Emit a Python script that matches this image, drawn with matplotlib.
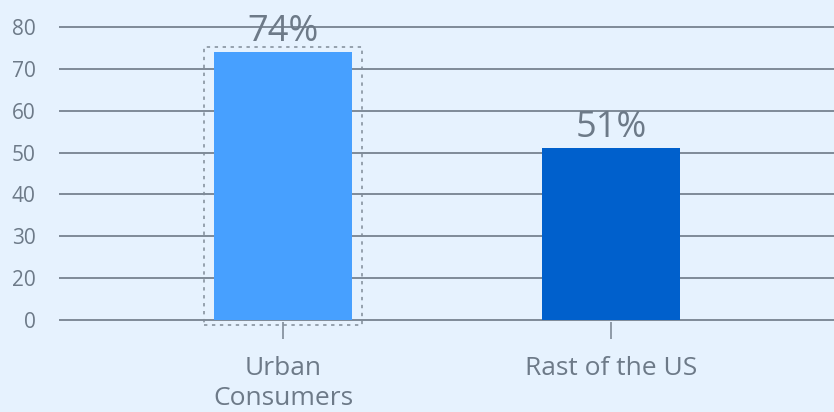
import numpy as np
import matplotlib
matplotlib.use("Agg")
import matplotlib.pyplot as plt
from matplotlib.patches import Rectangle

# Data
categories = ["Urban\nConsumers", "Rast of the US"]
values = [74, 51]
value_labels = ["74%", "51%"]
bar_colors = ["#47a0ff", "#0060cc"]
y_ticks = [0, 20, 30, 40, 50, 60, 70, 80]

BG = "#e6f2fe"
GRID = "#7f8b98"
TEXT = "#6d7a88"

plt.rcParams["font.family"] = ["Open Sans", "DejaVu Sans"]


# Axis with the lowest band (0-20) squeezed into a single grid step
def fwd(v):
    v = np.asarray(v, dtype=float)
    return np.where(v >= 20, v, 10 + v / 2)


def inv(p):
    p = np.asarray(p, dtype=float)
    return np.where(p >= 20, p, (p - 10) * 2)


fig = plt.figure(figsize=(8.34, 4.12), dpi=100, facecolor=BG)
ax = fig.add_axes([59 / 834, 90 / 412, 775 / 834, 322 / 412])
ax.set_facecolor(BG)
ax.set_yscale("function", functions=(fwd, inv))
ax.set_ylim(-0.96, 86.45)
ax.set_xlim(-0.683, 1.68)

x = np.arange(len(categories))
width = 0.42
bars = ax.bar(x, values, width=width, color=bar_colors, zorder=3)

for xi, v, lab in zip(x, values, value_labels):
    ax.annotate(lab, (xi, v), xytext=(0, 8), textcoords="offset points",
                ha="center", va="baseline", fontsize=26, color=TEXT, zorder=4)

# Dotted highlight box around the first bar
pad_x = 0.03
ax.add_patch(Rectangle((x[0] - width / 2 - pad_x, -2.4), width + 2 * pad_x,
                       values[0] + 1.2 + 2.4, fill=False, edgecolor=GRID,
                       linewidth=1.1, linestyle=(0, (2.2, 3)), clip_on=False,
                       zorder=4))

ax.set_yticks(y_ticks)
ax.set_yticklabels([str(t) for t in y_ticks])
ax.yaxis.grid(True, color=GRID, linewidth=1.4, zorder=0)
ax.set_axisbelow(True)
ax.tick_params(axis="y", length=0, pad=17, labelsize=15, labelcolor=TEXT)

ax.set_xticks(x)
ax.set_xticklabels(categories, linespacing=1.25)
ax.tick_params(axis="x", length=12.5, width=1.2, color=GRID, pad=12,
               labelsize=19, labelcolor=TEXT)

for s in ax.spines.values():
    s.set_visible(False)

fig.savefig("out.png", dpi=100, facecolor=BG)
